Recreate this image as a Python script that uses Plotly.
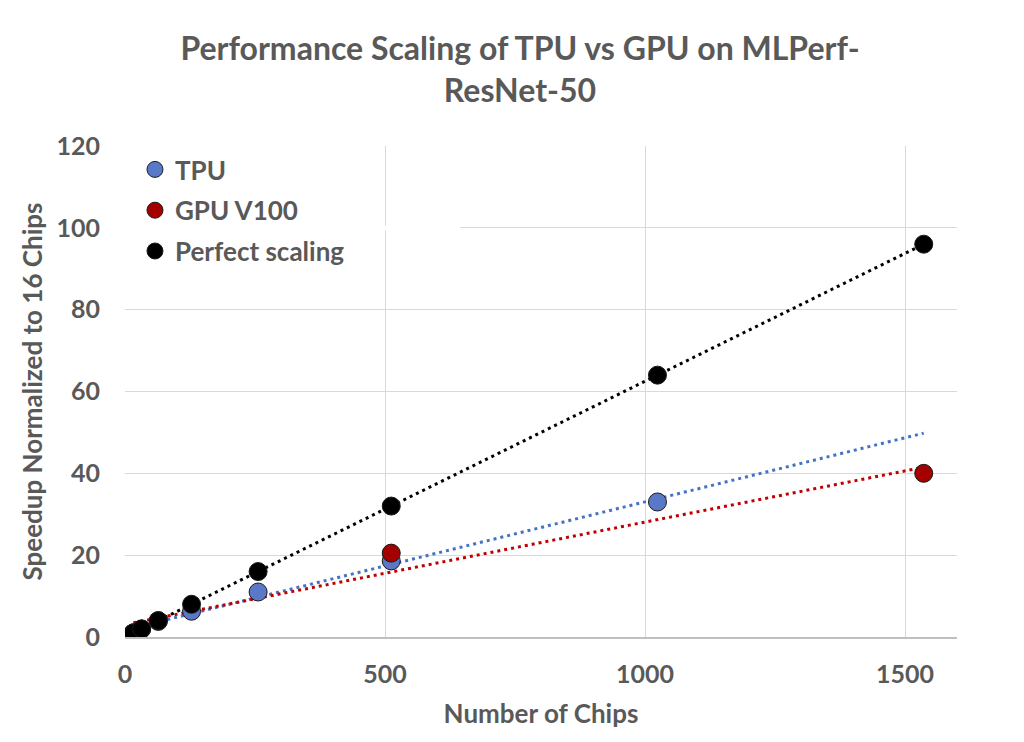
import numpy as np
import plotly.graph_objects as go

# ---- data ----
tpu_chips = [16, 32, 64, 128, 256, 512, 1024]
tpu_speedup = [1, 1.9, 3.8, 6.3, 11, 18.6, 33]

gpu_chips = [16, 64, 512, 1536]
gpu_speedup = [1, 4, 20.5, 40]

perfect_chips = [16, 32, 64, 128, 256, 512, 1024, 1536]
perfect_speedup = [1, 2, 4, 8, 16, 32, 64, 96]

x_ticks = [0, 500, 1000, 1500]
y_ticks = [0, 20, 40, 60, 80, 100, 120]

FONT = "Lato, sans-serif"
GRAY = "#595959"

series = [
    ("TPU", tpu_chips, tpu_speedup, "#5A78C8", "#4472C4"),
    ("GPU V100", gpu_chips, gpu_speedup, "#A50000", "#C00000"),
    ("Perfect scaling", perfect_chips, perfect_speedup, "#000000", "#000000"),
]

fig = go.Figure()

# linear trendlines (least squares), spanning 16..1536 chips
trend_x = np.array([min(perfect_chips), max(perfect_chips)], dtype=float)
for name, xs, ys, mcol, lcol in series:
    m, b = np.polyfit(xs, ys, 1)
    fig.add_trace(go.Scatter(
        x=trend_x, y=m * trend_x + b, mode="lines",
        line=dict(color=lcol, width=3, dash="3px,4px"),
        showlegend=False, hoverinfo="skip"))

for name, xs, ys, mcol, lcol in series:
    fig.add_trace(go.Scatter(
        x=xs, y=ys, mode="markers", name=name, legendgroup=name,
        marker=dict(size=18, color=mcol, line=dict(color="#1a1a1a", width=1))))

# white strip hiding the gridline behind the legend
fig.add_shape(type="rect", xref="x", yref="y", x0=0, x1=645, y0=99.4, y1=100.6,
              fillcolor="white", line=dict(width=0), layer="between")

tickfont = dict(family=FONT, size=25, color=GRAY, weight="bold")
titlefont = dict(family=FONT, size=26, color=GRAY)

fig.update_layout(
    width=1024, height=742,
    paper_bgcolor="white", plot_bgcolor="white",
    margin=dict(l=117, r=75, t=138, b=113),
    title=dict(
        text="<b>Performance Scaling of TPU vs GPU on MLPerf-<br>ResNet-50</b>",
        x=0.5, xanchor="center", y=0.93, yanchor="top",
        font=dict(family=FONT, size=32, color=GRAY)),
    xaxis=dict(range=[0, 1600], tickvals=x_ticks, showline=True,
               linecolor="#BFBFBF", linewidth=1.5, ticks="",
               showgrid=True, gridcolor="#D9D9D9", gridwidth=1.3, zeroline=False,
               tickfont=tickfont, ticklabelstandoff=14,
               title=dict(text="<b>Number of Chips</b>", standoff=18, font=titlefont)),
    yaxis=dict(range=[0, 120], tickvals=y_ticks, showline=False, ticks="",
               showgrid=True, gridcolor="#D9D9D9", gridwidth=1.3, zeroline=False,
               tickfont=tickfont, ticklabelstandoff=24,
               title=dict(text="<b>Speedup Normalized to 16 Chips</b>", standoff=6,
                          font=titlefont)),
    legend=dict(x=0.012, y=1.0, xanchor="left", yanchor="top",
                bgcolor="rgba(0,0,0,0)", traceorder="grouped", tracegroupgap=4,
                font=dict(family=FONT, size=26, color=GRAY, weight="bold")),
)

fig.write_html("out.html")
